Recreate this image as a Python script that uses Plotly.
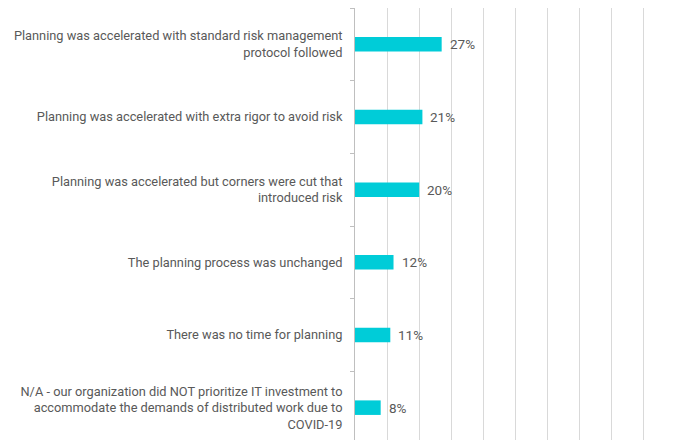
import plotly.graph_objects as go

categories = [
    "Planning was accelerated with standard risk management<br>protocol followed",
    "Planning was accelerated with extra rigor to avoid risk",
    "Planning was accelerated but corners were cut that<br>introduced risk",
    "The planning process was unchanged",
    "There was no time for planning",
    "N/A - our organization did NOT prioritize IT investment to<br>accommodate the demands of distributed work due to<br>COVID-19",
]
values = [27, 21, 20, 12, 11, 8]
labels = ["27%", "21%", "20%", "12%", "11%", "8%"]

fig = go.Figure()
fig.add_trace(go.Bar(
    x=values, y=categories, orientation="h",
    marker=dict(color="#00CCD8", line=dict(width=0)),
    width=0.2,
))
for v, c, t in zip(values, categories, labels):
    fig.add_annotation(x=v, y=c, text=t, showarrow=False, xanchor="left",
                       xshift=6, yshift=0,
                       font=dict(family="Roboto", size=13.5, color="#595959"))

fig.update_layout(
    width=670, height=436,
    margin=dict(l=347, r=2, t=0, b=0),
    paper_bgcolor="white", plot_bgcolor="white",
    showlegend=False,
    font=dict(family="Roboto", size=12.8, color="#595959"),
    xaxis=dict(range=[0, 100], dtick=10, showticklabels=False,
               showgrid=True, gridcolor="#D9D9D9", gridwidth=1,
               zeroline=False, showline=False, fixedrange=True),
    yaxis=dict(autorange="reversed", showline=True, linecolor="#BFBFBF",
               linewidth=1, ticks="outside", tickson="boundaries",
               ticklen=4, tickcolor="#BFBFBF", showgrid=False,
               ticklabelstandoff=9,
               tickfont=dict(family="Roboto", size=12.8, color="#595959")),
)
fig.write_html("out.html")
